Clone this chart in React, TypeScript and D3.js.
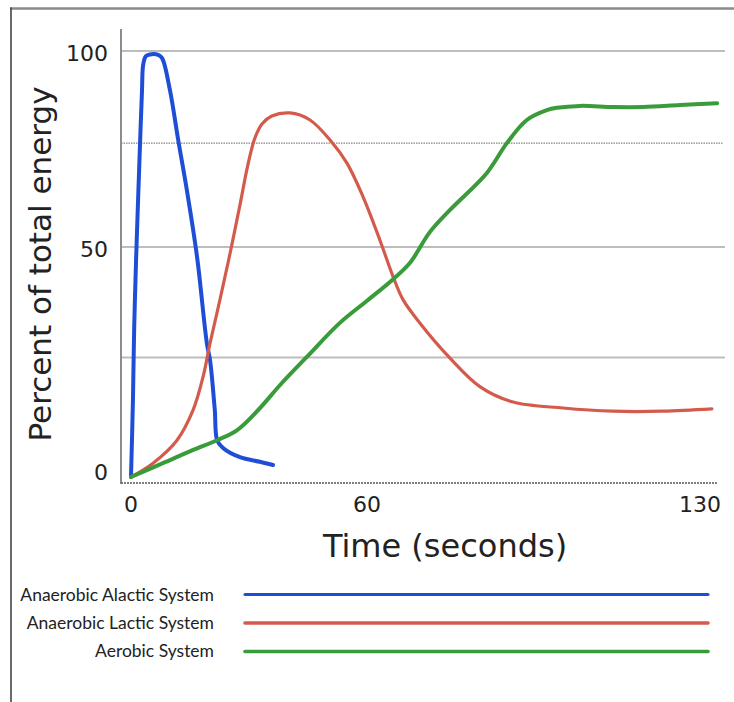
import React from "react";
import * as d3 from "d3";

// ---- data ----
const timeTicks = [0, 60, 130];
const percentTicks = [0, 50, 100];
const gridSolid = [100, 50, 26];
const gridDotted = [76.5];

const seriesNames = ["Anaerobic Alactic System", "Anaerobic Lactic System", "Aerobic System"];
const seriesColors = ["#1f4ed6", "#d45b4b", "#3a9b3a"];

const alactic: [number, number][] = [
  [0, 0], [0.5, 17], [0.8, 32], [1.3, 47.5], [1.8, 62], [2.3, 76.5], [2.8, 90], [3.1, 96.5],
  [3.8, 98.7], [5.3, 99.2], [6.9, 99], [7.9, 98.2], [9.9, 90], [12, 77.3], [14.2, 64.5],
  [16.8, 47.8], [19.3, 29], [20.1, 25.4], [21.3, 14.6], [21.9, 8], [23.4, 6.3], [27.7, 4.3],
  [32.8, 3.3], [36.1, 2.6],
];

const lactic: [number, number][] = [
  [0, 0], [5.6, 3], [11.7, 8], [15.8, 14.6], [18.3, 21.7], [20.1, 29.1], [22.6, 38.5],
  [25.2, 48.7], [27.7, 60.7], [29.7, 70.9], [31.5, 77.8], [33.3, 81.4], [35.8, 83.4],
  [40.4, 84.2], [45.5, 82.4], [50.6, 77.3], [54.9, 71.4], [59, 62.8], [62.7, 51.8], [65.5, 43.5],
  [67.6, 38.5], [71.1, 33.5], [77.4, 25.9], [83.8, 19.6], [90.7, 16.3], [101.2, 15], [111.7, 14.3],
  [122.2, 14.3], [132.5, 14.8],
];

const aerobic: [number, number][] = [
  [0, 0], [8.1, 3], [15.8, 5.9], [21.9, 8], [27, 10.2], [32.8, 15], [37.9, 20], [44.7, 26.1],
  [53.1, 33.5], [60, 38.3], [65.5, 43], [69, 46.5], [73.2, 53.8], [77.4, 59.4],
  [85.2, 68.9], [89.4, 76.5], [93.6, 82.4], [97.8, 84.9], [99.9, 85.5], [104.8, 86], [111.7, 85.7],
  [118, 85.7], [125.8, 86.2], [133.6, 86.7],
];

const seriesData = [alactic, lactic, aerobic];
const seriesWidths = [4, 3.2, 4];

export default function App() {
  const W = 734;
  const H = 702;
  const x = d3.scaleLinear().domain([0, 60, 130]).range([131, 367, 700]);
  const y = d3.scaleLinear().domain([0, 50, 100]).range([477, 247, 51]);

  const axisX = 121;
  const gridRight = 725;
  const xAxisRight = 717;
  const xAxisY = 483;
  const yAxisTop = 29;

  const line = d3
    .line<[number, number]>()
    .x((d) => x(d[0]))
    .y((d) => y(d[1]))
    .curve(d3.curveCatmullRom.alpha(0.5));

  const tickFont = "'DejaVu Sans', Verdana, sans-serif";

  return (
    <svg
      width={W}
      height={H}
      viewBox={`0 0 ${W} ${H}`}
      style={{ position: "absolute", left: 0, top: 0, background: "#fff" }}
    >
      <rect x={0} y={0} width={W} height={H} fill="#fff" />
      {/* frame */}
      <line x1={10} x2={W} y1={8.5} y2={8.5} stroke="#8a8a8a" strokeWidth={2.5} />
      <line x1={11} x2={11} y1={7.5} y2={H} stroke="#444" strokeWidth={1.6} />

      {/* grid */}
      {gridSolid.map((v) => (
        <line key={"g" + v} x1={axisX} x2={gridRight} y1={y(v)} y2={y(v)} stroke="#bdbdbd" strokeWidth={2} />
      ))}
      {gridDotted.map((v) => (
        <line
          key={"d" + v}
          x1={axisX}
          x2={gridRight - 2}
          y1={y(v)}
          y2={y(v)}
          stroke="#666"
          strokeWidth={1}
          strokeDasharray="1.5,1"
        />
      ))}

      {/* axes */}
      <line x1={axisX} x2={axisX} y1={yAxisTop} y2={xAxisY + 1} stroke="#8c8c8c" strokeWidth={2} />
      <line
        x1={axisX}
        x2={xAxisRight}
        y1={xAxisY}
        y2={xAxisY}
        stroke="#555"
        strokeWidth={1.6}
        strokeDasharray="2,1"
      />

      {/* tick labels */}
      {percentTicks.map((v) => (
        <text
          key={"py" + v}
          x={108}
          y={y(v) + (v === 0 ? 3 : 9.5)}
          textAnchor="end"
          fontFamily={tickFont}
          fontSize={22}
          fill="#222"
        >
          {v}
        </text>
      ))}
      {timeTicks.map((v) => (
        <text
          key={"tx" + v}
          x={x(v)}
          y={512}
          textAnchor="middle"
          fontFamily={tickFont}
          fontSize={22}
          fill="#222"
        >
          {v}
        </text>
      ))}

      {/* axis titles */}
      <text
        transform="translate(51,264) rotate(-90)"
        textAnchor="middle"
        fontFamily={tickFont}
        fontSize={31}
        fill="#222"
      >
        Percent of total energy
      </text>
      <text x={445} y={557} textAnchor="middle" fontFamily={tickFont} fontSize={32} fill="#222">
        Time (seconds)
      </text>

      {/* series */}
      {seriesData.map((d, i) => (
        <path
          key={"s" + i}
          d={line(d) || ""}
          fill="none"
          stroke={seriesColors[i]}
          strokeWidth={seriesWidths[i]}
          strokeLinecap="round"
          strokeLinejoin="round"
        />
      ))}

      {/* legend */}
      {seriesNames.map((name, i) => (
        <g key={"l" + i}>
          <text
            x={214}
            y={601 + i * 27.8}
            textAnchor="end"
            fontFamily="Lato, 'Open Sans', sans-serif"
            fontSize={17.5}
            fill="#222"
          >
            {name}
          </text>
          <line
            x1={245}
            x2={708}
            y1={594.5 + i * 28.5}
            y2={594.5 + i * 28.5}
            stroke={seriesColors[i]}
            strokeWidth={i === 0 ? 3 : 3.6}
            strokeLinecap="round"
          />
        </g>
      ))}
    </svg>
  );
}
